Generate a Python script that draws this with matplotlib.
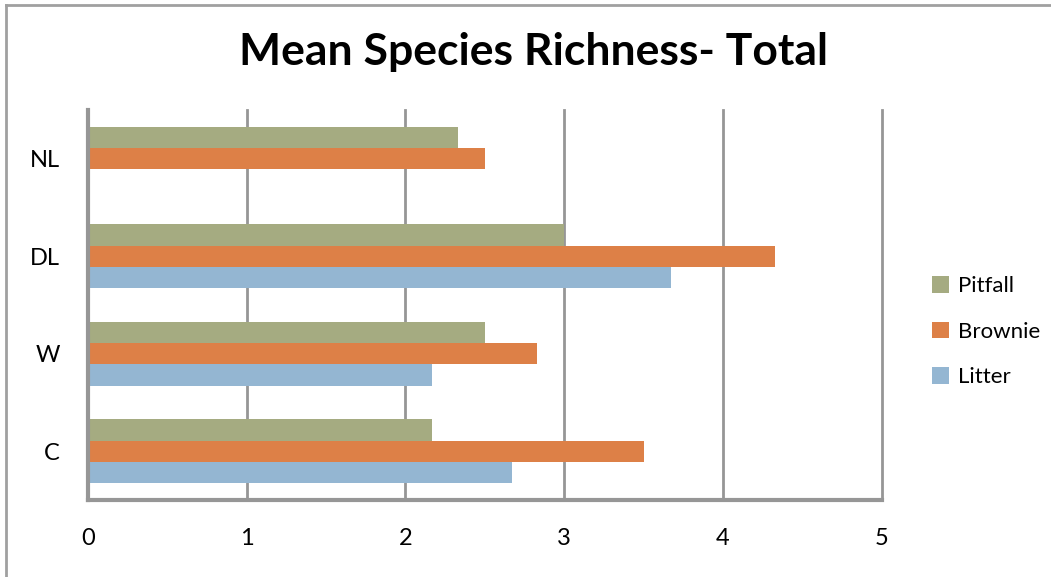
import numpy as np
import matplotlib.pyplot as plt
from matplotlib.lines import Line2D

categories = ["C", "W", "DL", "NL"]
pitfall = [2.17, 2.5, 3.0, 2.33]
brownie = [3.5, 2.83, 4.33, 2.5]
litter = [2.67, 2.17, 3.67, 0.0]

colors = {"Pitfall": "#A5AB81", "Brownie": "#DD8047", "Litter": "#94B6D2"}
grid_gray = "#969696"

plt.rcParams["font.family"] = ["Lato", "DejaVu Sans"]

fig = plt.figure(figsize=(10.51, 5.77), dpi=100)
ax = fig.add_axes([0.0837, 0.1334, 0.7553, 0.676])

y = np.arange(len(categories))
h = 0.22
ax.barh(y - h, litter, height=h, color=colors["Litter"], label="Litter", zorder=3)
ax.barh(y, brownie, height=h, color=colors["Brownie"], label="Brownie", zorder=3)
ax.barh(y + h, pitfall, height=h, color=colors["Pitfall"], label="Pitfall", zorder=3)

ax.set_xlim(0, 5)
ax.set_ylim(-0.5, len(categories) - 0.5)
ax.set_xticks(range(6))
ax.set_yticks(y)
ax.set_yticklabels(categories)
ax.tick_params(axis="both", length=0, labelsize=17)
ax.tick_params(axis="x", pad=20)
ax.tick_params(axis="y", pad=20)
ax.xaxis.grid(True, color=grid_gray, linewidth=2, zorder=0)
for line in ax.xaxis.get_gridlines():
    line.set_clip_on(False)

for side in ["top", "right"]:
    ax.spines[side].set_visible(False)
for side in ["left", "bottom"]:
    ax.spines[side].set_color(grid_gray)
    ax.spines[side].set_linewidth(3)
    ax.spines[side].set_zorder(4)

fig.text(0.508, 0.91, "Mean Species Richness- Total", ha="center", va="center",
         fontsize=32, fontweight="bold")

handles, labels = ax.get_legend_handles_labels()
leg = fig.legend(handles[::-1], labels[::-1], loc="center left",
                 bbox_to_anchor=(0.868, 0.425), frameon=False, fontsize=16,
                 handlelength=0.75, handleheight=0.75, handletextpad=0.4,
                 labelspacing=1.15)

# chart frame: only top and left edges show in the crop
fig.add_artist(Line2D([0.006, 1.0], [0.991, 0.991], transform=fig.transFigure,
                      color="#A0A0A0", linewidth=2))
fig.add_artist(Line2D([0.006, 0.006], [0.0, 0.991], transform=fig.transFigure,
                      color="#A0A0A0", linewidth=2))

fig.savefig("out.png", dpi=100)
